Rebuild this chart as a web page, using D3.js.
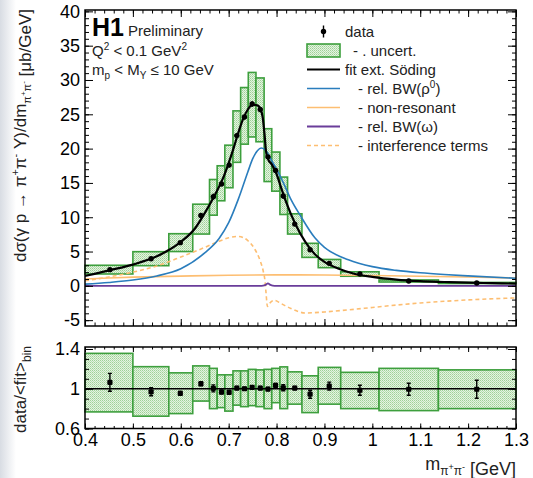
<!DOCTYPE html>
<html>
<head>
<meta charset="utf-8">
<script src="https://cdn.jsdelivr.net/npm/d3@7"></script>
<style>
  body { margin: 0; background: #fff; }
  text { font-family: "Liberation Sans", Arial, Helvetica, sans-serif; }
</style>
</head>
<body>
<script>
const w = 533;
const h = 478;
const left = 85, right = 516;
const topPanel = [10, 326];
const botPanel = [347, 428.5];

// bins and measured cross section
const binEdges = [0.40, 0.50, 0.575, 0.625, 0.66, 0.676, 0.692, 0.709, 0.725, 0.741, 0.757, 0.774, 0.790, 0.807, 0.823, 0.853, 0.887, 0.934, 1.014, 1.138, 1.30];
const mass = [0.452, 0.538, 0.599, 0.642, 0.668, 0.685, 0.701, 0.717, 0.733, 0.749, 0.766, 0.782, 0.798, 0.814, 0.838, 0.870, 0.910, 0.974, 1.076, 1.218];
const xsec = [2.36, 3.95, 6.3, 10.25, 13.0, 14.85, 17.6, 21.9, 24.6, 26.5, 25.7, 18.8, 16.8, 13.1, 9.0, 5.27, 3.28, 1.73, 0.71, 0.42];
const xsecErr = [0.21, 0.16, 0.13, 0.2, 0.45, 0.3, 0.35, 0.33, 0.37, 0.4, 0.39, 0.28, 0.34, 0.39, 0.14, 0.21, 0.13, 0.09, 0.04, 0.04];
const sysHi = [3.0, 4.98, 7.6, 11.9, 15.5, 17.5, 20.5, 25.5, 28.9, 31.1, 30.3, 22.9, 19.5, 15.85, 10.5, 6.2, 3.85, 2.05, 0.86, 0.5];
const sysLo = [1.73, 2.94, 5.0, 7.55, 10.3, 12.4, 14.3, 18.0, 20.65, 21.7, 21.0, 15.2, 13.8, 10.4, 7.55, 4.15, 2.65, 1.4, 0.56, 0.34];

// data / <fit>_bin
const ratio = [1.065, 0.97, 0.953, 1.05, 1.004, 0.967, 0.963, 1.007, 1.0, 1.014, 1.007, 0.997, 1.034, 1.01, 1.007, 0.945, 1.027, 0.985, 0.995, 0.995];
const ratioErr = [0.09, 0.04, 0.02, 0.02, 0.035, 0.02, 0.02, 0.015, 0.015, 0.015, 0.015, 0.015, 0.02, 0.03, 0.015, 0.04, 0.04, 0.05, 0.06, 0.09];
const ratioHi = [1.356, 1.222, 1.16, 1.23, 1.205, 1.14, 1.14, 1.18, 1.18, 1.195, 1.19, 1.195, 1.205, 1.22, 1.17, 1.13, 1.215, 1.165, 1.205, 1.19];
const ratioLo = [0.767, 0.724, 0.75, 0.876, 0.80, 0.81, 0.775, 0.835, 0.82, 0.83, 0.82, 0.80, 0.86, 0.80, 0.845, 0.76, 0.845, 0.80, 0.78, 0.80];

// fit curves, [m, dsigma/dm]
const fitCurve = [[0.40,1.45],[0.42,1.75],[0.45,2.25],[0.50,3.1],[0.55,4.3],[0.60,6.4],[0.63,8.4],[0.65,10.6],[0.67,13.1],[0.69,16.0],[0.70,17.9],[0.71,20.0],[0.72,22.3],[0.73,24.3],[0.74,25.7],[0.75,26.4],[0.76,26.3],[0.766,25.8],[0.771,24.6],[0.775,22.0],[0.778,19.6],[0.782,18.5],[0.79,17.7],[0.80,16.3],[0.81,14.2],[0.82,12.2],[0.84,8.9],[0.86,6.4],[0.88,4.6],[0.90,3.5],[0.93,2.5],[0.96,1.8],[1.00,1.3],[1.05,0.9],[1.10,0.68],[1.15,0.56],[1.20,0.46],[1.25,0.39],[1.30,0.33]];
const rhoCurve = [[0.40,0.25],[0.45,0.5],[0.50,0.85],[0.55,1.45],[0.60,2.5],[0.65,4.8],[0.68,6.9],[0.70,9.2],[0.72,12.6],[0.74,16.6],[0.75,18.5],[0.76,19.7],[0.768,20.1],[0.775,19.9],[0.78,19.5],[0.79,18.2],[0.80,17.0],[0.815,14.9],[0.83,12.6],[0.85,10.2],[0.88,7.0],[0.90,5.6],[0.95,3.8],[1.00,2.8],[1.05,2.25],[1.10,1.9],[1.15,1.65],[1.20,1.45],[1.30,1.1]];
const nonResCurve = [[0.40,1.0],[0.45,1.15],[0.50,1.27],[0.60,1.42],[0.70,1.55],[0.80,1.6],[0.90,1.58],[1.00,1.5],[1.10,1.4],[1.20,1.28],[1.30,1.15]];
const omegaCurve = [[0.40,0],[0.765,0],[0.772,0.03],[0.777,0.15],[0.782,0.35],[0.787,0.15],[0.792,0.03],[0.80,0],[1.30,0]];
const interfCurve = [[0.40,0.75],[0.45,1.3],[0.50,2.0],[0.55,2.9],[0.60,4.2],[0.65,5.6],[0.68,6.5],[0.70,7.0],[0.72,7.2],[0.74,6.6],[0.755,5.3],[0.765,3.8],[0.772,2.2],[0.776,0.6],[0.778,-1.0],[0.781,-3.0],[0.785,-2.6],[0.795,-2.1],[0.81,-2.6],[0.83,-3.3],[0.86,-3.95],[0.90,-3.8],[0.95,-3.5],[1.00,-3.15],[1.05,-2.8],[1.10,-2.5],[1.15,-2.25],[1.20,-2.05],[1.30,-1.75]];

// ticks
const xTicks = [0.4, 0.5, 0.6, 0.7, 0.8, 0.9, 1.0, 1.1, 1.2, 1.3];
const xTickLabels = ["0.4", "0.5", "0.6", "0.7", "0.8", "0.9", "1", "1.1", "1.2", "1.3"];
const yTicks = [-5, 0, 5, 10, 15, 20, 25, 30, 35, 40];
const yTickLabels = ["-5", "0", "5", "10", "15", "20", "25", "30", "35", "40"];
const rTicks = [0.6, 1.0, 1.4];
const rTickLabels = ["0.6", "1", "1.4"];

const legendLabels = ["data", "- . uncert.", "fit ext. Söding", "- rel. BW(ρ", "- non-resonant", "- rel. BW(ω)", "- interference terms"];

const green = "#3d9f3d";
const blue = "#2a7dbd";
const orange = "#fdbe72";
const purple = "#6a3d9a";

const xScale = d3.scaleLinear().domain([0.4, 1.3]).range([left, right]);
const yScale = d3.scaleLinear().domain([-5.85, 40.2]).range([topPanel[1], topPanel[0]]);
const rScale = d3.scaleLinear().domain([0.6, 1.42]).range([botPanel[1], botPanel[0]]);

const svg = d3.select("body")
              .append("svg")
              .attr("width", w)
              .attr("height", h);

const defs = svg.append("defs");
const grad = defs.append("linearGradient").attr("id", "edge");
grad.append("stop").attr("offset", "0%").attr("stop-color", "#d8dce3");
grad.append("stop").attr("offset", "100%").attr("stop-color", "#fff");
svg.append("rect").attr("width", 16).attr("height", h).attr("fill", "url(#edge)");

const pat = defs.append("pattern")
                .attr("id", "stipple")
                .attr("width", 2).attr("height", 2)
                .attr("patternUnits", "userSpaceOnUse");
pat.append("rect").attr("width", 2).attr("height", 2).attr("fill", "#e4f3e1");
pat.append("rect").attr("width", 1).attr("height", 1).attr("fill", "#9fd197");
pat.append("rect").attr("x", 1).attr("y", 1).attr("width", 1).attr("height", 1).attr("fill", "#b9dfb2");

defs.append("clipPath").attr("id", "clipTop")
    .append("rect").attr("x", left).attr("y", topPanel[0])
    .attr("width", right - left).attr("height", topPanel[1] - topPanel[0]);

const font = 18;

function axes(yS, yRange, majors, labels, minors, majorLen, minorLen, xLen, xMinorLen, showX) {
  const g = svg.append("g");
  const strip = sel => sel.call(s => s.select(".domain").remove());
  g.append("g").attr("transform", "translate(" + left + ",0)")
   .call(d3.axisLeft(yS).tickValues(majors).tickSize(-majorLen).tickPadding(5)
         .tickFormat((d, i) => labels[i]))
   .call(strip).attr("font-size", font).attr("font-family", null);
  g.append("g").attr("transform", "translate(" + left + ",0)")
   .call(d3.axisLeft(yS).tickValues(minors).tickSize(-minorLen).tickFormat(""))
   .call(strip);
  g.append("g").attr("transform", "translate(" + right + ",0)")
   .call(d3.axisRight(yS).tickValues(majors).tickSize(-majorLen).tickFormat(""))
   .call(strip);
  g.append("g").attr("transform", "translate(" + right + ",0)")
   .call(d3.axisRight(yS).tickValues(minors).tickSize(-minorLen).tickFormat(""))
   .call(strip);
  const xMinor = d3.range(0, 46).map(i => 0.4 + i * 0.02);
  g.append("g").attr("transform", "translate(0," + yRange[1] + ")")
   .call(d3.axisBottom(xScale).tickValues(xTicks).tickSize(-xLen).tickPadding(5)
         .tickFormat((d, i) => showX ? xTickLabels[i] : ""))
   .call(strip).attr("font-size", font).attr("font-family", null);
  g.append("g").attr("transform", "translate(0," + yRange[1] + ")")
   .call(d3.axisBottom(xScale).tickValues(xMinor).tickSize(-xMinorLen).tickFormat(""))
   .call(strip);
  g.append("g").attr("transform", "translate(0," + yRange[0] + ")")
   .call(d3.axisTop(xScale).tickValues(xTicks).tickSize(-xLen).tickFormat(""))
   .call(strip);
  g.append("g").attr("transform", "translate(0," + yRange[0] + ")")
   .call(d3.axisTop(xScale).tickValues(xMinor).tickSize(-xMinorLen).tickFormat(""))
   .call(strip);
  g.selectAll(".tick line").attr("stroke", "#000").attr("stroke-width", 1);
  g.selectAll(".tick text").attr("fill", "#000");
  svg.append("rect")
     .attr("x", left).attr("y", yRange[0])
     .attr("width", right - left).attr("height", yRange[1] - yRange[0])
     .attr("fill", "none").attr("stroke", "#000").attr("stroke-width", 1.5);
}

// ---------- top panel ----------
const boxes = svg.append("g");
boxes.selectAll("rect")
     .data(mass)
     .enter()
     .append("rect")
     .attr("x", (d, i) => xScale(binEdges[i]))
     .attr("width", (d, i) => xScale(binEdges[i + 1]) - xScale(binEdges[i]))
     .attr("y", (d, i) => yScale(sysHi[i]))
     .attr("height", (d, i) => yScale(sysLo[i]) - yScale(sysHi[i]))
     .attr("fill", "url(#stipple)")
     .attr("stroke", green)
     .attr("stroke-width", 1.6);

const line = d3.line()
               .x(d => xScale(d[0]))
               .y(d => yScale(d[1]))
               .curve(d3.curveMonotoneX);

const curves = svg.append("g").attr("clip-path", "url(#clipTop)");
curves.append("path").datum(nonResCurve).attr("d", line)
      .attr("fill", "none").attr("stroke", orange).attr("stroke-width", 1.6);
curves.append("path").datum(interfCurve).attr("d", line)
      .attr("fill", "none").attr("stroke", orange).attr("stroke-width", 1.6)
      .attr("stroke-dasharray", "4,3");
curves.append("path").datum(omegaCurve).attr("d", line)
      .attr("fill", "none").attr("stroke", purple).attr("stroke-width", 1.8);
curves.append("path").datum(rhoCurve).attr("d", line)
      .attr("fill", "none").attr("stroke", blue).attr("stroke-width", 1.6);
curves.append("path").datum(fitCurve).attr("d", line)
      .attr("fill", "none").attr("stroke", "#000").attr("stroke-width", 2.2);

const pts = svg.append("g");
pts.selectAll("line")
   .data(mass)
   .enter()
   .append("line")
   .attr("x1", d => xScale(d)).attr("x2", d => xScale(d))
   .attr("y1", (d, i) => yScale(xsec[i] - xsecErr[i]))
   .attr("y2", (d, i) => yScale(xsec[i] + xsecErr[i]))
   .attr("stroke", "#000").attr("stroke-width", 1.5);
pts.selectAll("circle")
   .data(mass)
   .enter()
   .append("circle")
   .attr("cx", d => xScale(d))
   .attr("cy", (d, i) => yScale(xsec[i]))
   .attr("r", 2.7)
   .attr("fill", "#000");

axes(yScale, topPanel, yTicks, yTickLabels, d3.range(-5, 41, 1), 8, 4, 7, 3.5, false);

// ---------- bottom panel ----------
const rboxes = svg.append("g");
rboxes.selectAll("rect")
      .data(mass)
      .enter()
      .append("rect")
      .attr("x", (d, i) => xScale(binEdges[i]))
      .attr("width", (d, i) => xScale(binEdges[i + 1]) - xScale(binEdges[i]))
      .attr("y", (d, i) => rScale(ratioHi[i]))
      .attr("height", (d, i) => rScale(ratioLo[i]) - rScale(ratioHi[i]))
      .attr("fill", "url(#stipple)")
      .attr("stroke", green)
      .attr("stroke-width", 1.6);

svg.append("line")
   .attr("x1", xScale(0.4)).attr("x2", xScale(1.3))
   .attr("y1", rScale(1)).attr("y2", rScale(1))
   .attr("stroke", "#000").attr("stroke-width", 1.5);

const rpts = svg.append("g");
rpts.selectAll("path")
    .data(mass)
    .enter()
    .append("path")
    .attr("d", (d, i) => {
      const x = xScale(d), y0 = rScale(ratio[i] - ratioErr[i]), y1 = rScale(ratio[i] + ratioErr[i]);
      return "M" + x + "," + y0 + "V" + y1 + "M" + (x - 2) + "," + y0 + "H" + (x + 2) + "M" + (x - 2) + "," + y1 + "H" + (x + 2);
    })
    .attr("stroke", "#000").attr("stroke-width", 1.4).attr("fill", "none");
rpts.selectAll("rect")
    .data(mass)
    .enter()
    .append("rect")
    .attr("x", d => xScale(d) - 2.6)
    .attr("y", (d, i) => rScale(ratio[i]) - 2.6)
    .attr("width", 5.2).attr("height", 5.2).attr("rx", 1.2)
    .attr("fill", "#000");

axes(rScale, botPanel, rTicks, rTickLabels, d3.range(6, 15, 1).map(v => v / 10), 8, 4, 5, 2.5, true);

// ---------- texts ----------
function rich(g, parts) {
  parts.forEach(p => {
    g.append("tspan")
     .attr("font-size", p[1])
     .attr("dy", p[2] || 0)
     .text(p[0]);
  });
  return g;
}

const yTitle = svg.append("text")
                  .attr("transform", "translate(26,9) rotate(-90)")
                  .attr("text-anchor", "end")
                  .attr("font-size", 17)
                  .attr("fill", "#222");
rich(yTitle, [["dσ(γ p → π", 17], ["+", 11, -7], ["π", 17, 7], ["-", 11, -7], [" Y)/dm", 17, 7],
              ["π", 11, 5], ["+", 8, -5], ["π", 11, 5], ["-", 8, -5], [" [μb/GeV]", 17, 5]]);

const rTitle = svg.append("text")
                  .attr("transform", "translate(26,346) rotate(-90)")
                  .attr("text-anchor", "end")
                  .attr("font-size", 17)
                  .attr("fill", "#222");
rich(rTitle, [["data/<fit>", 17], ["bin", 12, 5]]);

const xTitle = svg.append("text")
                  .attr("x", 516).attr("y", 470)
                  .attr("text-anchor", "end")
                  .attr("font-size", 18)
                  .attr("fill", "#222");
rich(xTitle, [["m", 18], ["π", 12, 5], ["+", 9, -5], ["π", 12, 5], ["-", 9, -5], [" [GeV]", 18, 5]]);

svg.append("text").attr("x", 92).attr("y", 36)
   .attr("font-size", 25).attr("font-weight", "bold").text("H1");
svg.append("text").attr("x", 128).attr("y", 36)
   .attr("font-size", 15).attr("fill", "#222").text("Preliminary");
rich(svg.append("text").attr("x", 92).attr("y", 56).attr("fill", "#222"),
     [["Q", 15], ["2", 10, -6], [" < 0.1 GeV", 15, 6], ["2", 10, -6]]);
rich(svg.append("text").attr("x", 92).attr("y", 75).attr("fill", "#222"),
     [["m", 15], ["p", 10, 4], [" < M", 15, -4], ["Y", 10, 4], [" ≤ 10 GeV", 15, -4]]);

// ---------- legend ----------
const legendY = [31.5, 50.5, 69.5, 88.5, 107.5, 126.5, 145.5];
const legendX = [345, 353, 345, 358, 358, 358, 358];
const leg = svg.append("g");
const lx0 = 307, lx1 = 340;

leg.append("line").attr("x1", 323.5).attr("x2", 323.5)
   .attr("y1", legendY[0] - 6).attr("y2", legendY[0] + 6)
   .attr("stroke", "#000").attr("stroke-width", 1.4);
leg.append("circle").attr("cx", 323.5).attr("cy", legendY[0]).attr("r", 2.7).attr("fill", "#000");
leg.append("rect").attr("x", lx0).attr("y", legendY[1] - 6.5)
   .attr("width", lx1 - lx0).attr("height", 13)
   .attr("fill", "url(#stipple)").attr("stroke", green).attr("stroke-width", 1.6);
const legLines = [[2, "#000", 2.2, null], [3, blue, 1.6, null], [4, orange, 1.6, null], [5, purple, 1.8, null], [6, orange, 1.6, "4,3"]];
legLines.forEach(l => {
  leg.append("line").attr("x1", lx0).attr("x2", lx1)
     .attr("y1", legendY[l[0]]).attr("y2", legendY[l[0]])
     .attr("stroke", l[1]).attr("stroke-width", l[2])
     .attr("stroke-dasharray", l[3]);
});
legendLabels.forEach((t, i) => {
  const el = leg.append("text")
                .attr("x", legendX[i]).attr("y", legendY[i] + 5.5)
                .attr("font-size", 15).attr("fill", "#222");
  if (i === 3) rich(el, [[t, 15], ["0", 10, -6], [")", 15, 6]]);
  else el.text(t);
});
</script>
</body>
</html>
